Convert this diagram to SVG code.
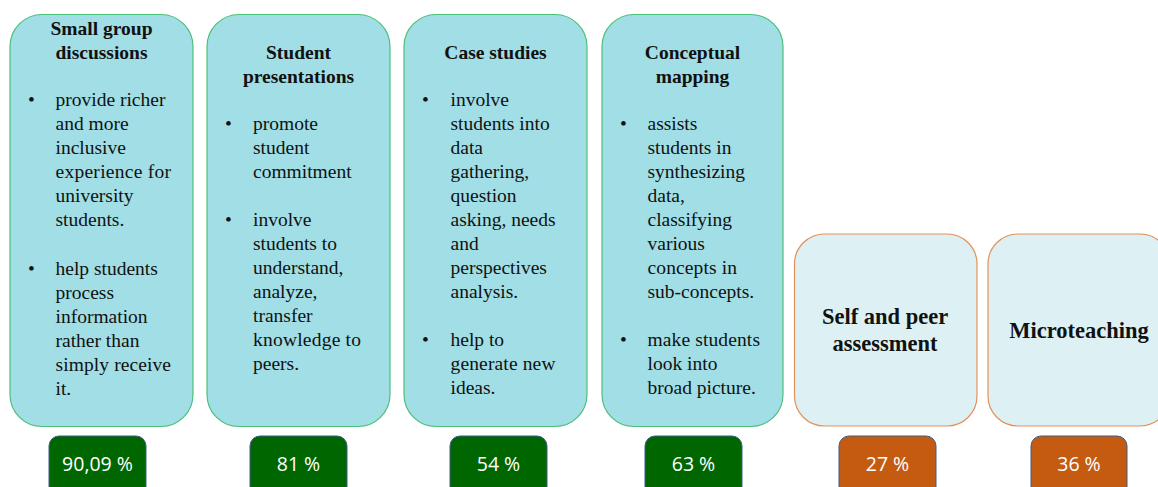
<svg xmlns="http://www.w3.org/2000/svg" width="1158" height="487" viewBox="0 0 1158 487">
  <style>
    .card { fill: #A1DEE5; stroke: #4CC07A; stroke-width: 1.2; }
    .card-lt { fill: #DDF1F4; stroke: #E39158; stroke-width: 1.2; }
    .ttl { font-family: "Liberation Serif", "Times New Roman", serif; font-weight: bold; font-size: 19.5px; fill: #111; text-anchor: middle; }
    .ttl-lg { font-family: "Liberation Serif", "Times New Roman", serif; font-weight: bold; font-size: 22.5px; fill: #111; text-anchor: middle; }
    .body { font-family: "Liberation Serif", "Times New Roman", serif; font-size: 19.5px; fill: #111; }
    .pct-g { fill: #006600; stroke: #3A5F8A; stroke-width: 1; }
    .pct-o { fill: #C55A11; stroke: #3A5F8A; stroke-width: 1; }
    .pct-t { font-family: "Open Sans", "Liberation Sans", sans-serif; font-size: 19.5px; fill: #FFFFFF; text-anchor: middle; }
  </style>

  <!-- Small group discussions -->
  <g id="small-group">
    <rect class="card" x="10" y="14.5" width="183" height="412" rx="32"/>
    <text class="ttl" x="101.5" y="35">Small group</text>
    <text class="ttl" x="101.5" y="59">discussions</text>
    <g class="body">
      <text x="28" y="106">•</text>
      <text x="55.5" y="106">provide richer</text>
      <text x="55.5" y="130">and more</text>
      <text x="55.5" y="154">inclusive</text>
      <text x="55.5" y="178" textLength="115.5" lengthAdjust="spacing">experience for</text>
      <text x="55.5" y="202">university</text>
      <text x="55.5" y="226">students.</text>
      <text x="28" y="275">•</text>
      <text x="55.5" y="275">help students</text>
      <text x="55.5" y="299">process</text>
      <text x="55.5" y="323">information</text>
      <text x="55.5" y="347">rather than</text>
      <text x="55.5" y="371" textLength="115.5" lengthAdjust="spacing">simply receive</text>
      <text x="55.5" y="395">it.</text>
    </g>
  </g>

  <!-- Student presentations -->
  <g id="student-presentations">
    <rect class="card" x="207" y="14.5" width="183" height="412" rx="32"/>
    <text class="ttl" x="298.5" y="59">Student</text>
    <text class="ttl" x="298.5" y="83">presentations</text>
    <g class="body">
      <text x="225" y="130">•</text>
      <text x="253" y="130">promote</text>
      <text x="253" y="154">student</text>
      <text x="253" y="178">commitment</text>
      <text x="225" y="226">•</text>
      <text x="253" y="226">involve</text>
      <text x="253" y="250">students to</text>
      <text x="253" y="274">understand,</text>
      <text x="253" y="298">analyze,</text>
      <text x="253" y="322">transfer</text>
      <text x="253" y="346" textLength="108" lengthAdjust="spacing">knowledge to</text>
      <text x="253" y="370">peers.</text>
    </g>
  </g>

  <!-- Case studies -->
  <g id="case-studies">
    <rect class="card" x="404" y="14.5" width="183" height="412" rx="32"/>
    <text class="ttl" x="495.5" y="59">Case studies</text>
    <g class="body">
      <text x="422" y="106">•</text>
      <text x="450.5" y="106">involve</text>
      <text x="450.5" y="130">students into</text>
      <text x="450.5" y="154">data</text>
      <text x="450.5" y="178">gathering,</text>
      <text x="450.5" y="202">question</text>
      <text x="450.5" y="226">asking, needs</text>
      <text x="450.5" y="250">and</text>
      <text x="450.5" y="274">perspectives</text>
      <text x="450.5" y="298">analysis.</text>
      <text x="422" y="346">•</text>
      <text x="450.5" y="346">help to</text>
      <text x="450.5" y="370" textLength="105" lengthAdjust="spacing">generate new</text>
      <text x="450.5" y="394">ideas.</text>
    </g>
  </g>

  <!-- Conceptual mapping -->
  <g id="conceptual-mapping">
    <rect class="card" x="602" y="14.5" width="181" height="412" rx="32"/>
    <text class="ttl" x="692.5" y="59">Conceptual</text>
    <text class="ttl" x="692.5" y="83">mapping</text>
    <g class="body">
      <text x="620" y="130">•</text>
      <text x="647.5" y="130">assists</text>
      <text x="647.5" y="154">students in</text>
      <text x="647.5" y="178">synthesizing</text>
      <text x="647.5" y="202">data,</text>
      <text x="647.5" y="226">classifying</text>
      <text x="647.5" y="250">various</text>
      <text x="647.5" y="274" textLength="89.5" lengthAdjust="spacing">concepts in</text>
      <text x="647.5" y="298">sub-concepts.</text>
      <text x="620" y="346">•</text>
      <text x="647.5" y="346" textLength="112.5" lengthAdjust="spacing">make students</text>
      <text x="647.5" y="370">look into</text>
      <text x="647.5" y="394">broad picture.</text>
    </g>
  </g>

  <!-- Self and peer assessment -->
  <g id="self-peer">
    <rect class="card-lt" x="794.5" y="234" width="182.5" height="192" rx="30"/>
    <text class="ttl-lg" x="885" y="324">Self and peer</text>
    <text class="ttl-lg" x="885" y="350.5">assessment</text>
  </g>

  <!-- Microteaching -->
  <g id="microteaching">
    <rect class="card-lt" x="988" y="234" width="182" height="192" rx="30"/>
    <text class="ttl-lg" x="1079" y="338">Microteaching</text>
  </g>

  <!-- Percentage tags -->
  <g id="pct-small-group">
    <rect class="pct-g" x="49" y="436" width="97" height="64" rx="10"/>
    <text class="pct-t" x="97.5" y="471">90,09 %</text>
  </g>
  <g id="pct-student-presentations">
    <rect class="pct-g" x="250" y="436" width="97" height="64" rx="10"/>
    <text class="pct-t" x="298.5" y="471">81 %</text>
  </g>
  <g id="pct-case-studies">
    <rect class="pct-g" x="450" y="436" width="97" height="64" rx="10"/>
    <text class="pct-t" x="498.5" y="471">54 %</text>
  </g>
  <g id="pct-conceptual-mapping">
    <rect class="pct-g" x="645" y="436" width="97" height="64" rx="10"/>
    <text class="pct-t" x="693.5" y="471">63 %</text>
  </g>
  <g id="pct-self-peer">
    <rect class="pct-o" x="839" y="436" width="97" height="64" rx="10"/>
    <text class="pct-t" x="887.5" y="471">27 %</text>
  </g>
  <g id="pct-microteaching">
    <rect class="pct-o" x="1031" y="436" width="96" height="64" rx="10"/>
    <text class="pct-t" x="1079" y="471">36 %</text>
  </g>

  <g id="connectors"/>
</svg>
